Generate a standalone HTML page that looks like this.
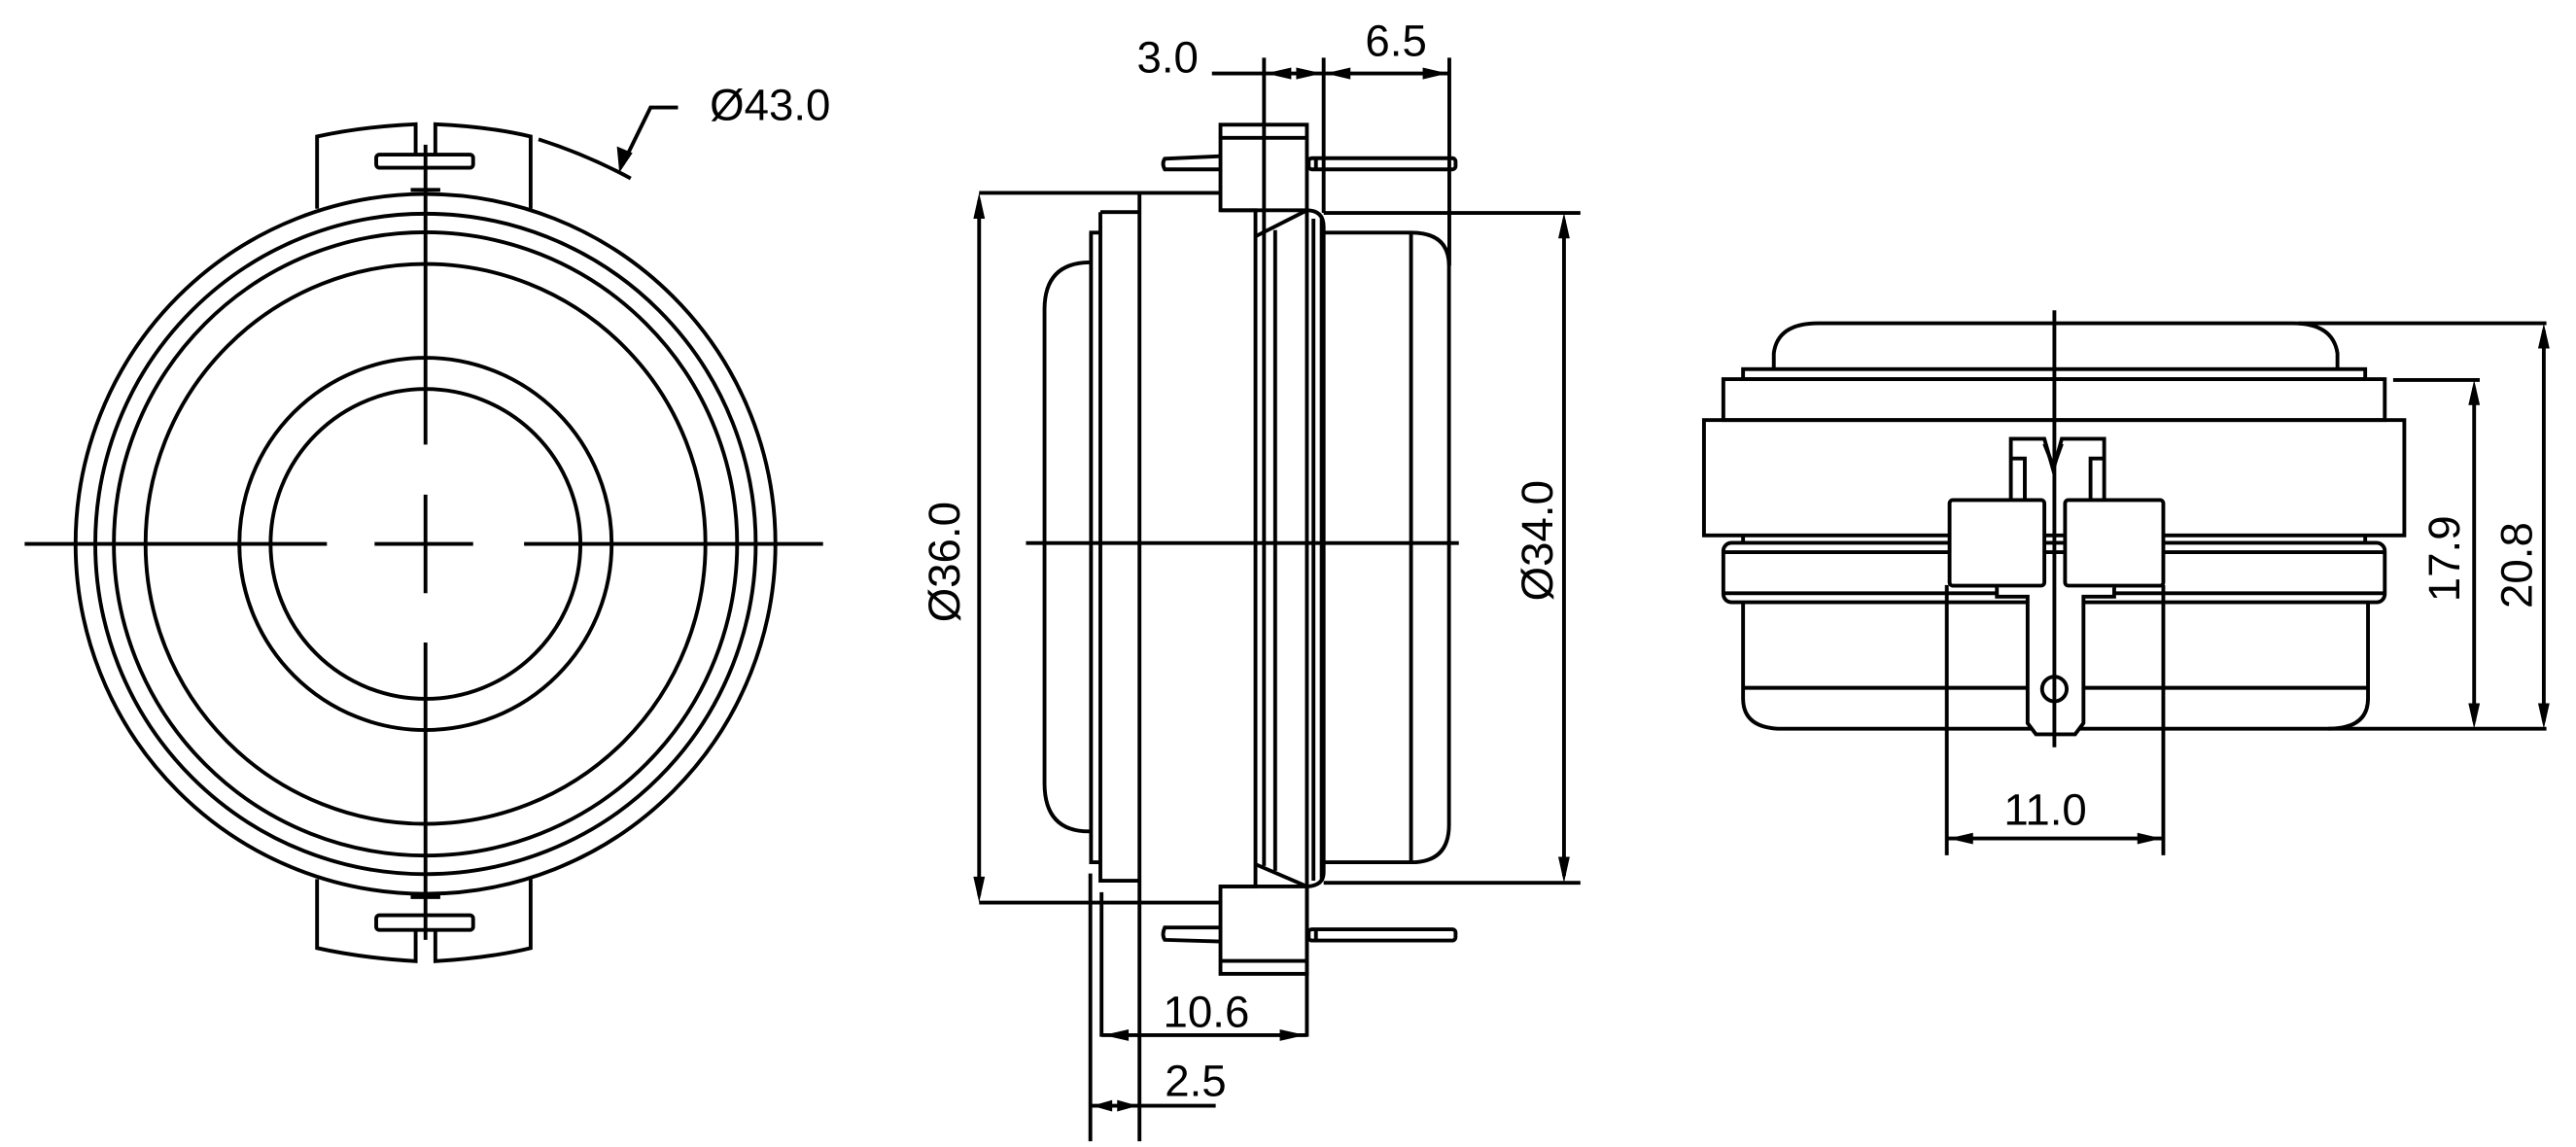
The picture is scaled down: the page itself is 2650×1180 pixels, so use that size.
<!DOCTYPE html>
<html><head><meta charset="utf-8"><style>
html,body{margin:0;padding:0;background:#fff}
svg{display:block}
text{font-family:"Liberation Sans",sans-serif;font-size:27px;fill:#000}
</style></head><body>
<svg width="2650" height="1180" viewBox="0 0 1568 698" xmlns="http://www.w3.org/2000/svg">
<g fill="none" stroke="#000" stroke-width="2.3">
<circle cx="259" cy="331" r="213"/>
<circle cx="259" cy="331" r="201"/>
<circle cx="259" cy="331" r="189.7"/>
<circle cx="259" cy="331" r="170.4"/>
<circle cx="259" cy="331" r="113.3"/>
<circle cx="259" cy="331" r="94.3"/>
<path d="M15,331H199M228,331H288M319,331H501"/>
<path d="M259,88V270.5M259,301V361M259,391V572"/>
<path d="M193,127V83Q220,77 253,75.5V94M265,94V75.5Q298,77 323,83V127"/>
<rect x="229" y="94" width="59" height="8" rx="2"/>
<path d="M250,115.5H268"/>
<path d="M193,535V577Q220,583 253,585V567M265,567V585Q298,583 323,577V535"/>
<rect x="229" y="557" width="59" height="9" rx="2"/>
<path d="M250,546H268"/>
<path d="M327.8,84.7Q357,94 383.9,108.5"/>
<path d="M412.7,65.3H396L379,100"/>
</g>
<polygon points="377,105 375.5,89 385,93" fill="#000"/>
<text x="432" y="73">Ø43.0</text>

<g fill="none" stroke="#000" stroke-width="2.3">
<path d="M663,159.6Q636,160 635.8,187.9V477Q636,506 663,506"/>
<path d="M663,141.5H669.8M664.1,141.5V524.8H669.8"/>
<path d="M669.8,129H693.6M669.8,129V536H693.6"/>
<path d="M693.6,117.3V694.6"/>
<path d="M596,117.3H742.9M596,549.3H742.9"/>
<path d="M596,122V545"/>
<rect x="742.9" y="75.8" width="52.6" height="52.1"/>
<path d="M742.9,83.8H795.5"/>
<path d="M742.9,127.9H764.2V539.5H742.9"/>
<path d="M764.2,143.8L795.5,127.9Q805.7,128 805.7,138V531Q805.7,539 795.5,539.5L764.2,526"/>
<path d="M769.4,35V527M776.2,140V530M799.5,133V536M804.5,133V536M795.5,127.9V592.7"/>
<rect x="742.9" y="539.5" width="52.6" height="53.2"/>
<path d="M742.9,584.8H795.5"/>
<rect x="796.6" y="96.2" width="89.4" height="6.8" rx="2"/>
<path d="M801,96.2V103"/>
<path d="M742.9,95L709,96.5Q707,99.5 709,103H742.9"/>
<rect x="796.6" y="565.6" width="89.4" height="6.8" rx="2"/>
<path d="M801,565.6V572.4"/>
<path d="M742.9,573L709,572Q707,569 709,564.5H742.9"/>
<path d="M805.7,141.5H858.9Q882,141.5 882,161.6V502Q882,524.8 858.9,524.8H805.7"/>
<path d="M858.9,141.5V524.8"/>
<path d="M624.5,330.5H888"/>
<path d="M805.7,129.5H962M805.7,537.3H962M952,134V533"/>
<path d="M805.7,35V129.5M882.2,35V161.6"/>
<path d="M737.7,44.6H882.2"/>
<path d="M670.5,543V631M795.5,592V631M670.5,630H795.5"/>
<path d="M663.7,531.6V694.6M663.7,673H740"/>
</g>
<g fill="#000">
<polygon points="596,117.3 592.5,133 599.5,133"/>
<polygon points="596,549.3 592.5,533.5 599.5,533.5"/>
<polygon points="952,129.5 948.5,145 955.5,145"/>
<polygon points="952,537.3 948.5,521.5 955.5,521.5"/>
<polygon points="770.4,44.6 786,41 786,48.2"/>
<polygon points="804.7,44.6 789,41 789,48.2"/>
<polygon points="806.7,44.6 822,41 822,48.2"/>
<polygon points="881.2,44.6 866,41 866,48.2"/>
<polygon points="671.5,630 687,626.5 687,633.5"/>
<polygon points="794.5,630 779,626.5 779,633.5"/>
<polygon points="664.7,673 677,669.5 677,676.5"/>
<polygon points="692.6,673 680,669.5 680,676.5"/>
</g>
<text x="692" y="44">3.0</text>
<text x="831" y="34">6.5</text>
<text x="708" y="625">10.6</text>
<text x="709" y="667">2.5</text>
<text transform="translate(584,342) rotate(-90)" text-anchor="middle">Ø36.0</text>
<text transform="translate(945,329) rotate(-90)" text-anchor="middle">Ø34.0</text>

<g fill="none" stroke="#000" stroke-width="2.3">
<path d="M1079.7,224.6V215Q1082,196.7 1106.8,196.7H1395.6Q1420,196.7 1422.8,215V224.6"/>
<rect x="1061" y="224.6" width="378.7" height="6.1"/>
<rect x="1049" y="230.7" width="402.6" height="24.9"/>
<rect x="1037.2" y="255.6" width="426.3" height="70.2"/>
<path d="M1061,325.8V330.3M1439.7,325.8V330.3"/>
<rect x="1049" y="330.3" width="402.6" height="36.2" rx="5"/>
<path d="M1049,336H1451.6M1049,361H1451.6"/>
<path d="M1061,366.5V425Q1061,443.5 1085,443.5H1417Q1441.4,443.5 1441.4,425V366.5"/>
<path d="M1061,418.6H1441.4"/>
<path d="M1185,356V520.5M1316.8,356V520.5"/>
</g>
<g fill="#fff" stroke="#000" stroke-width="2.3">
<rect x="1186.7" y="304.3" width="57.7" height="52.1" rx="2"/>
<rect x="1257" y="304.3" width="59.8" height="52.1" rx="2"/>
<path d="M1215.5,357.5V363.1H1234.2V440.1L1239.3,446.9H1263.1L1268.2,440.1V363.1H1286.9V357.5"/>
</g>
<g fill="none" stroke="#000" stroke-width="2.3">
<path d="M1224,304V267H1244.4L1249.8,286L1255,267H1280.8V304"/>
<path d="M1232.5,304V279H1224M1272.5,304V279H1281"/>
<path d="M1244.4,270L1250,284L1255,270"/>
<circle cx="1250.5" cy="419.3" r="7.5"/>
<path d="M1250.5,188.8V454.8"/>
<path d="M1185,510.3H1316.8"/>
<path d="M1456.7,231.2H1509.4M1506,236V439"/>
<path d="M1399,196.7H1550M1548.4,201V439"/>
<path d="M1417,443.5H1550"/>
</g>
<g fill="#000">
<polygon points="1186,510.3 1201,506.8 1201,513.8"/>
<polygon points="1315.8,510.3 1301,506.8 1301,513.8"/>
<polygon points="1506,231.2 1502.5,246.5 1509.5,246.5"/>
<polygon points="1506,443.5 1502.5,428 1509.5,428"/>
<polygon points="1548.4,196.7 1544.9,212 1551.9,212"/>
<polygon points="1548.4,443.5 1544.9,428 1551.9,428"/>
</g>
<text x="1245" y="502" text-anchor="middle">11.0</text>
<text transform="translate(1497,340) rotate(-90)" text-anchor="middle">17.9</text>
<text transform="translate(1541,344) rotate(-90)" text-anchor="middle">20.8</text>
</svg>
</body></html>
